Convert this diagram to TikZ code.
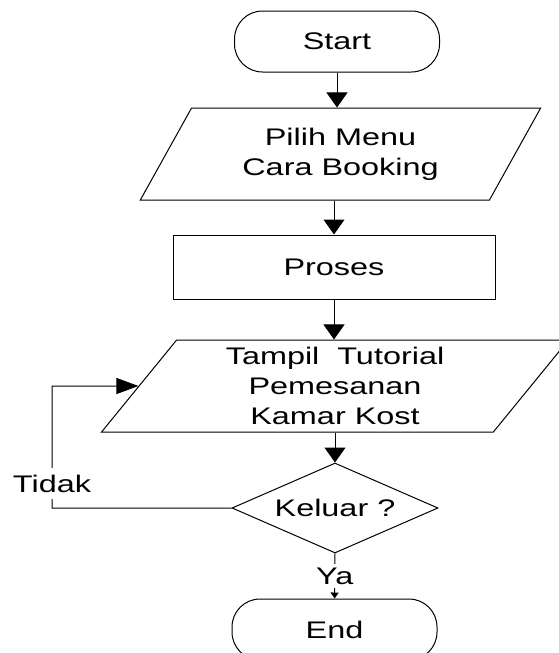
\documentclass[tikz,border=0pt]{standalone}
\usepackage{fontspec}
\setmainfont{Liberation Sans}[FakeStretch=1.35]
\usetikzlibrary{shapes.geometric}
\usetikzlibrary{arrows.meta}

\tikzset{
  terminal/.style={draw, rectangle, rounded corners=14pt, minimum width=102.5pt, minimum height=30.5pt},
  inout/.style={draw, trapezium, trapezium stretches=true, minimum height=46pt, inner sep=0pt, align=center},
  prosesbox/.style={draw, rectangle, minimum width=161pt, minimum height=32pt},
  decision/.style={draw, diamond, aspect=2.29, minimum width=103pt, minimum height=45pt, inner sep=0pt},
  panah/.style={-{Triangle[length=7.5pt,width=10.5pt]}},
  panahkecil/.style={-{Triangle[length=3pt,width=4pt]}},
  panahbalik/.style={-{Triangle[length=11pt,width=8pt]}}
}

\begin{document}
\begin{tikzpicture}[x=0.5pt, y=-0.5pt, line width=0.5pt, font=\fontsize{12}{14.8}\selectfont]
  \useasboundingbox (0,0) rectangle (558,653);

  \node[terminal] (start) at (337,41.5) {Start};
  \node[inout, minimum width=200.5pt, trapezium left angle=57, trapezium right angle=123] (menu) at (340.5,154) {Pilih Menu\\Cara Booking};
  \node[prosesbox] (proses) at (334,267) {Proses};
  \node[inout, minimum width=234pt, trapezium left angle=56, trapezium right angle=124] (tutorial) at (335,386) {Tampil\ \ Tutorial\\Pemesanan\\Kamar Kost};
  \node[decision] (keluar) at (335,508) {Keluar ?};
  \node[terminal] (end) at (334.5,629.5) {End};
  \coordinate (back) at (52,386);

  \draw[panah] (start) -- (start |- menu.north);
  \draw[panah] (proses |- menu.south) -- (proses);
  \draw[panah] (proses) -- (proses |- tutorial.north);
  \draw[panah] (keluar |- tutorial.south) -- (keluar);
  \draw[panahkecil] (keluar) -- node[fill=white, inner sep=2pt] {Ya} (end);
  \draw[panahbalik] (keluar.west) -| node[pos=0.6, fill=white] {Tidak} (back) -- (tutorial.west);
\end{tikzpicture}
\end{document}
